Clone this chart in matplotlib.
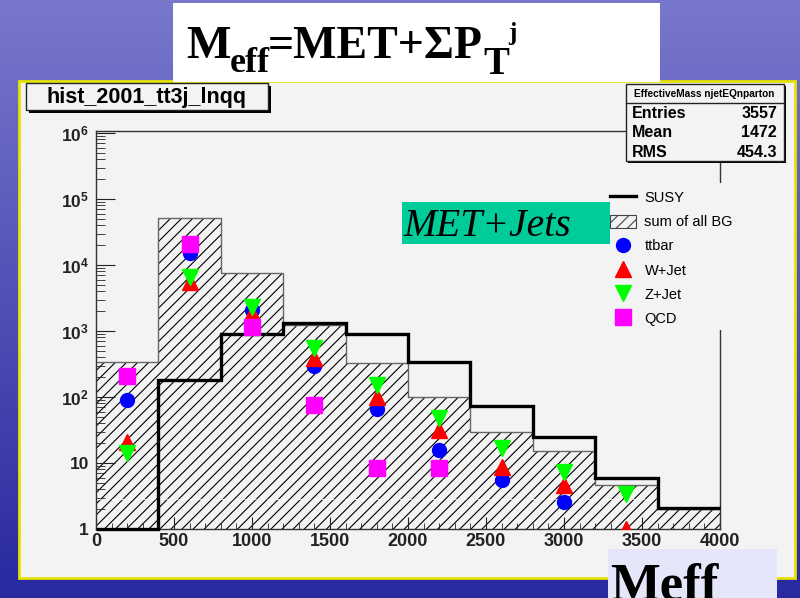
import matplotlib
matplotlib.use("Agg")
import matplotlib.pyplot as plt
import numpy as np
from matplotlib.patches import Rectangle, Patch
from matplotlib.lines import Line2D
from matplotlib.ticker import FixedLocator, MultipleLocator, LogLocator, NullFormatter

plt.rcParams['font.family'] = ['Liberation Sans', 'DejaVu Sans']
plt.rcParams['mathtext.fontset'] = 'custom'
plt.rcParams['mathtext.bf'] = 'Liberation Sans:bold'
plt.rcParams['hatch.linewidth'] = 0.8

# --- data -------------------------------------------------------------
edges = np.arange(0, 4001, 400)
sum_bg = [340, 51000, 7600, 1250, 330, 100, 30, 15, 4.7, 2.0]
susy = [1.0, 180, 900, 1300, 900, 340, 73, 25, 6.0, 2.1]

ttbar_x = [200, 600, 1000, 1400, 1800, 2200, 2600, 3000]
ttbar_y = [90, 15000, 2100, 300, 66, 16, 5.5, 2.6]
wjet_x = [200, 600, 1000, 1400, 1800, 2200, 2600, 3000, 3400]
wjet_y = [21, 5500, 1900, 390, 100, 32, 8.7, 4.7, 1.0]
zjet_x = [200, 600, 1000, 1400, 1800, 2200, 2600, 3000, 3400]
zjet_y = [14, 6500, 2300, 550, 150, 48, 17, 7.3, 3.4]
qcd_x = [200, 600, 1000, 1400, 1800, 2200]
qcd_y = [210, 21000, 1150, 75, 8.4, 8.4]

dash_level = 2.8
stats = [("Entries", "3557"), ("Mean", "1472"), ("RMS", "454.3")]
xtick_vals = list(range(0, 4001, 500))
ytick_vals = [1, 10, 1e2, 1e3, 1e4, 1e5, 1e6]
ytick_labels = ['1', '10', r'$\mathbf{10^{2}}$', r'$\mathbf{10^{3}}$',
                r'$\mathbf{10^{4}}$', r'$\mathbf{10^{5}}$', r'$\mathbf{10^{6}}$']
legend_labels = ['SUSY', 'sum of all BG', 'ttbar', 'W+Jet', 'Z+Jet', 'QCD']

W, H = 800, 598
panel = '#f3f3f3'


def fx(px):
    return px / W


def fy(py):
    return 1 - py / H


def box(fig, x0, y0, x1, y1, **kw):
    r = Rectangle((fx(x0), fy(y1)), (x1 - x0) / W, (y1 - y0) / H,
                  transform=fig.transFigure, **kw)
    fig.add_artist(r)
    return r


fig = plt.figure(figsize=(8, 5.98), dpi=100)

# slide background
bg = fig.add_axes([0, 0, 1, 1], zorder=-10)
top = np.array([0.47, 0.47, 0.80])
bot = np.array([0.16, 0.16, 0.63])
t = np.linspace(0, 1, 256)[:, None]
grad = top[None, None, :] * (1 - t[..., None]) + bot[None, None, :] * t[..., None]
grad = np.repeat(grad, 4, axis=1)
bg.imshow(grad, aspect='auto', extent=[0, 1, 0, 1])
bg.axis('off')

# ROOT canvas panel
box(fig, 19, 81, 795, 578, facecolor=panel, edgecolor='#e4e400', lw=2, zorder=-5)

# main axes
ax = fig.add_axes([fx(96), fy(529), (720 - 96) / W, (529 - 131) / H])
ax.set_facecolor(panel)
ax.set_yscale('log')
ax.set_xlim(0, 4000)
ax.set_ylim(1, 10 ** (6 + 2 / 66))

ax.stairs(sum_bg, edges, baseline=1e-3, fill=True, facecolor='none',
          edgecolor='black', hatch='///', lw=0)
ax.stairs(sum_bg, edges, baseline=None, color='#666666', lw=1)
ax.axhline(dash_level, color='white', ls=(0, (4, 3)), lw=0.8, alpha=0.8)
ax.stairs(susy, edges, baseline=None, color='black', lw=2.4, clip_on=False, zorder=3)

ax.plot(ttbar_x, ttbar_y, 'o', color='#0000ff', ms=10, zorder=4)
ax.plot(wjet_x, wjet_y, '^', color='#ff0000', ms=11, zorder=4)
ax.plot(zjet_x, zjet_y, 'v', color='#00ff00', ms=11, zorder=4)
ax.plot(qcd_x, qcd_y, 's', color='#ff00ff', ms=12, zorder=4)

for s in ax.spines.values():
    s.set_color('#333333')
    s.set_linewidth(1)

ax.xaxis.set_minor_locator(MultipleLocator(100))
ax.yaxis.set_major_locator(FixedLocator(ytick_vals))
ax.yaxis.set_minor_locator(LogLocator(subs=np.arange(2, 10)))
ax.yaxis.set_minor_formatter(NullFormatter())
ax.set_yticklabels(ytick_labels, fontsize=12.5, fontweight='bold')
ax.set_xticks(xtick_vals)
ax.set_xticklabels([str(v) for v in xtick_vals], fontsize=13, fontweight='bold')
ax.tick_params(which='both', direction='in', colors='#222222', top=False, right=False)
ax.tick_params(axis='y', which='major', length=13.7, pad=5)
ax.tick_params(axis='y', which='minor', length=6.7)
ax.tick_params(axis='x', which='major', length=8.6, pad=3)
ax.tick_params(axis='x', which='minor', length=4.3)

# histogram title box
box(fig, 29, 86, 271, 113, facecolor='black', lw=0, zorder=3)
box(fig, 26, 83, 268, 110, facecolor=panel, edgecolor='#222222', lw=1, zorder=3)
fig.text(fx(147), fy(97), 'hist_2001_tt3j_lnqq', ha='center', va='center',
         fontsize=15.5, fontweight='bold', zorder=4)

# stats box
box(fig, 628, 86, 786, 163, facecolor='black', lw=0, zorder=3)
box(fig, 626, 84, 784, 161, facecolor=panel, edgecolor='#222222', lw=1, zorder=3)
fig.add_artist(Line2D([fx(626), fx(784)], [fy(103), fy(103)], transform=fig.transFigure,
                      color='#222222', lw=1, zorder=4))
fig.text(fx(704), fy(93.5), 'EffectiveMass njetEQnparton', ha='center', va='center',
         fontsize=7.3, fontweight='bold', zorder=4)
for i, (k, v) in enumerate(stats):
    yy = fy(113 + i * 19.5)
    fig.text(fx(632), yy, k, ha='left', va='center', fontsize=11.5, fontweight='bold', zorder=4)
    fig.text(fx(777), yy, v, ha='right', va='center', fontsize=11.5, fontweight='bold', zorder=4)

# legend
box(fig, 598, 183, 784, 330, facecolor=panel, lw=0, zorder=2)
handles = [
    Line2D([], [], color='black', lw=2.4),
    Patch(facecolor=panel, edgecolor='#444444', hatch='///', lw=0.8),
    Line2D([], [], marker='o', ls='none', color='#0000ff', ms=10),
    Line2D([], [], marker='^', ls='none', color='#ff0000', ms=11),
    Line2D([], [], marker='v', ls='none', color='#00ff00', ms=11),
    Line2D([], [], marker='s', ls='none', color='#ff00ff', ms=11),
]
fig.legend(handles, legend_labels, loc='upper left', bbox_to_anchor=(fx(600), fy(180)),
           frameon=False, fontsize=10.5, handlelength=1.75, handleheight=1.0,
           handletextpad=0.6, labelspacing=0.67, borderpad=0.2)

# slide title: M_eff = MET + Sigma P_T^j
box(fig, 173, 3, 660, 82, facecolor='white', lw=0, zorder=6)
serif = dict(family='Liberation Serif', fontweight='bold', zorder=7, ha='left', va='baseline')
fig.text(fx(186), fy(58), 'M', fontsize=34, **serif)
fig.text(fx(230), fy(72), 'eff', fontsize=26, **serif)
fig.text(fx(268), fy(58), '=MET+\u03a3P', fontsize=33, **serif)
fig.text(fx(483), fy(74), 'T', fontsize=28, **serif)
fig.text(fx(508), fy(40), 'j', fontsize=18, **serif)

box(fig, 402, 202, 610, 244, facecolor='#00cc99', lw=0, zorder=6)
fig.text(fx(403), fy(236), 'MET+Jets', ha='left', va='baseline', fontsize=28.5,
         family='Liberation Serif', style='italic', zorder=7)

box(fig, 608, 549, 777, 600, facecolor='#e6e6fa', lw=0, zorder=6)
fig.text(fx(610), fy(600), 'Meff', ha='left', va='baseline', fontsize=38,
         family='Liberation Serif', fontweight='bold', zorder=7)

fig.savefig('out.png', dpi=100)
